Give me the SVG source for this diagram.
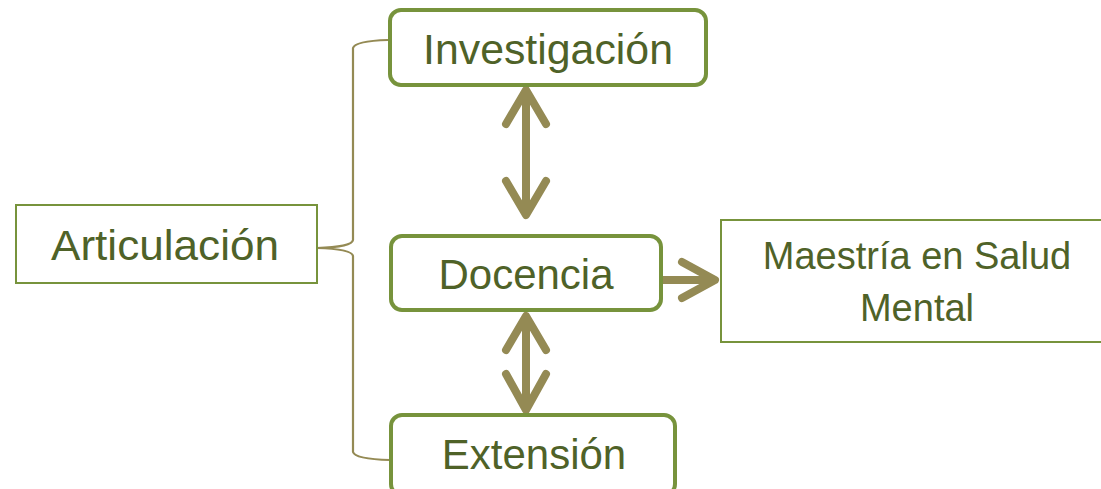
<svg xmlns="http://www.w3.org/2000/svg" width="1101" height="489" viewBox="0 0 1101 489">
<style>
.t{font-family:"Liberation Sans",Arial,sans-serif;fill:#4f6228;text-anchor:middle}
.rb{fill:#fff;stroke:#77933c;stroke-width:4}
.sb{fill:#fff;stroke:#77933c;stroke-width:2}
.ar{fill:none;stroke:#948a54;stroke-width:8;stroke-linecap:round;stroke-linejoin:round}
.br{fill:none;stroke:#948a54;stroke-width:2.2}
</style>
<rect width="1101" height="489" fill="#fff"/>
<g id="connectors">
<path class="br" d="M388,40 Q355,41 353,48 L353,240 Q352,247 317,248 Q352,249 353,256 L353,452 Q355,459 390,460"/>
<path class="ar" d="M526,92 L526,213 M506,124 L526,90 L546,124 M506,181 L526,215 L546,181"/>
<path class="ar" d="M526,318 L526,408 M506,350 L526,316 L546,350 M506,374 L526,410 L546,374"/>
<path class="ar" d="M662,280 L713,280 M682,262 L715,280 L682,298"/>
</g>
<g id="articulacion">
<rect class="sb" x="16" y="205" width="301" height="78"/>
<text class="t" x="165" y="260" font-size="43" textLength="228" lengthAdjust="spacingAndGlyphs">Articulación</text>
</g>
<g id="investigacion">
<rect class="rb" x="390" y="10" width="316" height="75" rx="11"/>
<text class="t" x="548" y="64" font-size="42" textLength="250" lengthAdjust="spacingAndGlyphs">Investigación</text>
</g>
<g id="docencia">
<rect class="rb" x="391" y="236" width="270" height="74" rx="11"/>
<text class="t" x="526" y="289" font-size="42">Docencia</text>
</g>
<g id="extension">
<rect class="rb" x="391" y="415" width="284" height="80" rx="11"/>
<text class="t" x="534" y="469" font-size="42">Extensión</text>
</g>
<g id="maestria">
<rect class="sb" x="721" y="220" width="400" height="122"/>
<text class="t" x="917" y="269" font-size="38">Maestría en Salud</text>
<text class="t" x="917" y="321" font-size="38">Mental</text>
</g>
</svg>
